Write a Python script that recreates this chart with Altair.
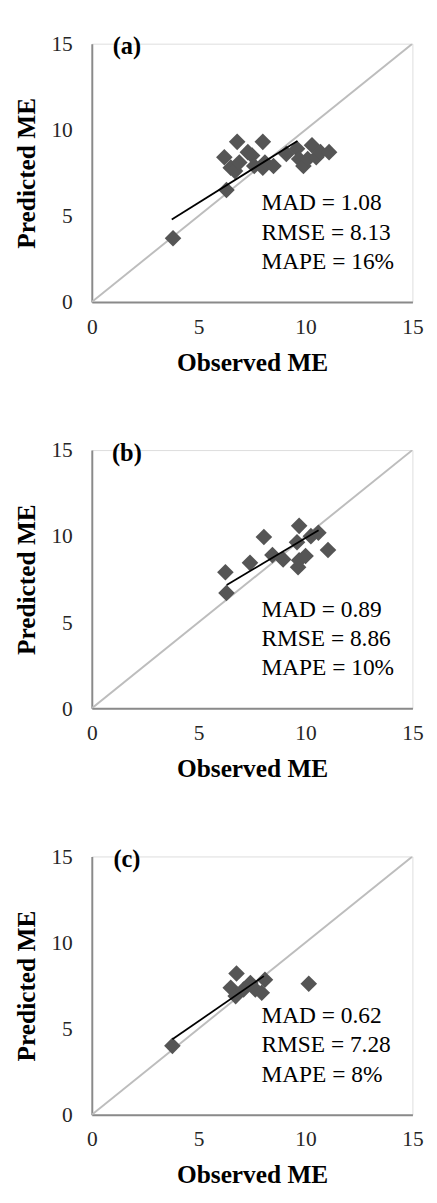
import altair as alt
import pandas as pd

# ---- data ----
panel_labels = ["(a)", "(b)", "(c)"]

obs_a = [3.8, 6.3, 6.2, 6.5, 6.7, 6.8, 6.9, 7.3, 7.5, 7.6, 8.0, 8.0, 8.1, 8.5, 9.1, 9.6, 9.7, 9.9, 10.1, 10.3, 10.5, 10.7, 11.1]
pred_a = [3.7, 6.5, 8.4, 7.8, 7.6, 9.3, 8.1, 8.7, 8.5, 7.9, 9.3, 7.8, 8.1, 7.9, 8.6, 8.9, 8.3, 7.9, 8.3, 9.1, 8.4, 8.7, 8.7]

obs_b = [6.3, 6.25, 7.4, 8.05, 8.45, 8.95, 9.6, 9.7, 9.65, 9.7, 10.0, 10.25, 10.6, 11.05]
pred_b = [6.7, 7.9, 8.45, 9.95, 8.9, 8.65, 9.65, 10.6, 8.2, 8.6, 8.85, 10.0, 10.2, 9.2]

obs_c = [3.77, 6.5, 6.73, 6.77, 7.1, 7.42, 7.65, 7.95, 8.1, 10.15]
pred_c = [4.0, 7.37, 6.89, 8.2, 7.27, 7.65, 7.27, 7.08, 7.84, 7.61]

trend_a_x = [3.74, 9.62]
trend_a_y = [4.79, 9.35]
trend_b_x = [6.31, 10.61]
trend_b_y = [7.16, 10.34]
trend_c_x = [3.77, 8.05]
trend_c_y = [4.38, 8.05]

diag_x = [0, 15]
diag_y = [0, 15]

stats_a = ["MAD = 1.08", "RMSE = 8.13", "MAPE = 16%"]
stats_b = ["MAD = 0.89", "RMSE = 8.86", "MAPE = 10%"]
stats_c = ["MAD = 0.62", "RMSE = 7.28", "MAPE = 8%"]

x_title = "Observed ME"
y_title = "Predicted ME"
tick_values = [0, 5, 10, 15]

FONT = "Liberation Serif"
W, H = 329, 265


def panel(label, obs, pred, tx, ty, stats):
    xs = alt.Scale(domain=[0, 15], nice=False)
    ys = alt.Scale(domain=[0, 15], nice=False)
    xax = alt.Axis(values=tick_values, title=x_title, grid=False, ticks=False,
                   labelFlush=False, labelOverlap=False,
                   domainColor="#8a8a8a", domainWidth=2, labelFont=FONT,
                   labelFontSize=22, labelColor="#262626", labelPadding=15,
                   titleFont=FONT, titleFontSize=26, titleFontWeight="bold",
                   titleColor="#000000", titlePadding=13)
    yax = alt.Axis(values=tick_values, title=y_title, grid=False, ticks=False,
                   labelFlush=False, labelOverlap=False,
                   domainColor="#8a8a8a", domainWidth=2, labelFont=FONT,
                   labelFontSize=22, labelColor="#262626", labelPadding=20,
                   titleFont=FONT, titleFontSize=26, titleFontWeight="bold",
                   titleColor="#000000", titlePadding=12)

    diag = alt.Chart(pd.DataFrame({"x": diag_x, "y": diag_y})).mark_line(
        color="#bdbdbd", strokeWidth=2, clip=True
    ).encode(x=alt.X("x:Q", scale=xs, axis=xax), y=alt.Y("y:Q", scale=ys, axis=yax))

    pts = alt.Chart(pd.DataFrame({"x": obs, "y": pred})).mark_point(
        shape="diamond", filled=True, size=290, color="#555555", opacity=1
    ).encode(x=alt.X("x:Q", scale=xs), y=alt.Y("y:Q", scale=ys))

    trend = alt.Chart(pd.DataFrame({"x": tx, "y": ty})).mark_line(
        color="#000000", strokeWidth=1.8
    ).encode(x=alt.X("x:Q", scale=xs), y=alt.Y("y:Q", scale=ys))

    lab = alt.Chart(pd.DataFrame({"t": [label]})).mark_text(
        font=FONT, fontSize=25, fontWeight="bold", align="center",
        baseline="middle", color="#000000"
    ).encode(text="t:N", x=alt.value(36), y=alt.value(3))

    layers = [diag, pts, trend, lab]
    for i, s in enumerate(stats):
        layers.append(
            alt.Chart(pd.DataFrame({"t": [s]})).mark_text(
                font=FONT, fontSize=24, align="left", baseline="middle",
                color="#000000"
            ).encode(text="t:N", x=alt.value(174), y=alt.value(164 + 30 * i))
        )
    return alt.layer(*layers).properties(width=W, height=H)


chart = alt.vconcat(
    panel(panel_labels[0], obs_a, pred_a, trend_a_x, trend_a_y, stats_a),
    panel(panel_labels[1], obs_b, pred_b, trend_b_x, trend_b_y, stats_b),
    panel(panel_labels[2], obs_c, pred_c, trend_c_x, trend_c_y, stats_c),
    spacing=152, bounds="flush"
).properties(
    padding={"left": 5, "top": 9, "right": 5, "bottom": 0}
).configure_view(stroke=None).configure(background="white")

chart.save("out.html", embed_options={"renderer": "svg", "actions": False})
